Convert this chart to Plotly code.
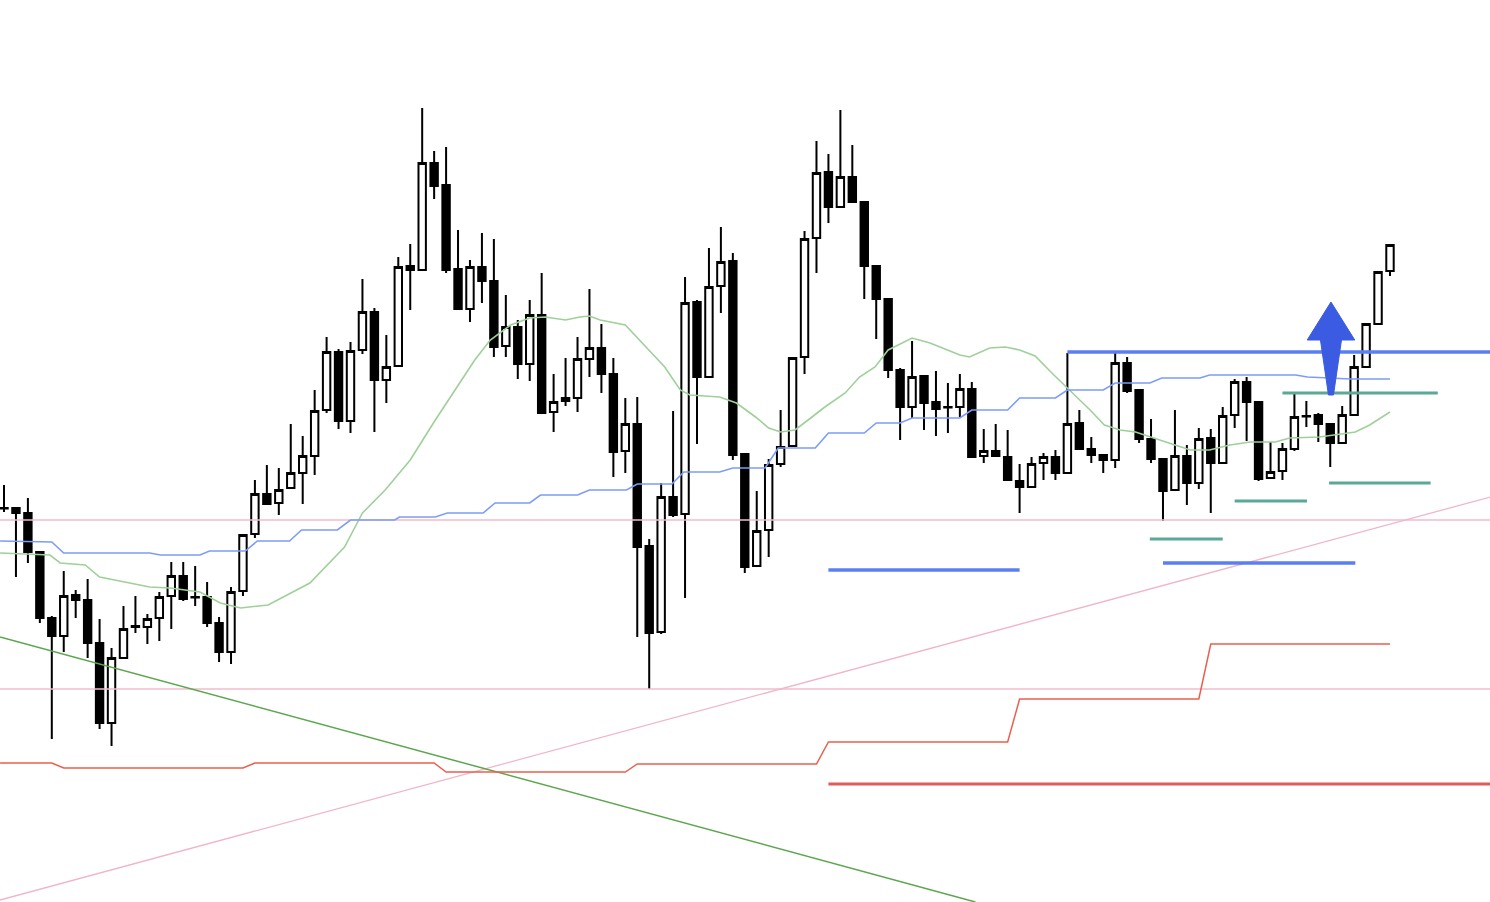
import plotly.graph_objects as go

# ---- candle data (price units; 117 bars) ----
bar_index = list(range(117))
open_ = [392, 392, 387, 348, 282, 264, 305, 300, 257, 177,
         242, 274, 273, 282, 304, 324, 303, 303, 277, 248,
         309, 366, 406, 397, 412, 427, 444, 490, 548, 479,
         550, 588, 520, 534, 634, 630, 737, 715, 631, 591,
         633, 619, 554, 573, 536, 585, 488, 502, 502, 541,
         552, 526, 449, 476, 354, 268, 403, 386, 598, 523,
         614, 639, 446, 334, 370, 436, 454, 543, 662, 728,
         693, 723, 698, 634, 601, 530, 493, 524, 498, 493,
         493, 511, 444, 449, 443, 419, 413, 437, 443, 427,
         477, 451, 445, 440, 537, 510, 461, 441, 410, 444,
         417, 462, 437, 485, 518, 498, 422, 429, 451, 484,
         485, 476, 457, 485, 533, 576, 629]
high = [415, 393, 402, 349, 284, 329, 310, 321, 281, 252,
        294, 304, 286, 308, 338, 338, 334, 318, 283, 313,
        366, 420, 435, 432, 476, 464, 510, 563, 551, 558,
        621, 592, 565, 643, 656, 792, 749, 753, 670, 640,
        667, 661, 605, 580, 600, 627, 526, 542, 563, 611,
        576, 542, 502, 503, 361, 417, 489, 623, 600, 652,
        673, 647, 446, 409, 441, 490, 543, 669, 759, 746,
        790, 755, 698, 635, 602, 532, 559, 525, 529, 517,
        526, 518, 471, 476, 470, 436, 443, 447, 450, 547,
        490, 463, 445, 547, 543, 511, 481, 441, 490, 455,
        472, 471, 493, 521, 523, 499, 458, 457, 506, 499,
        487, 477, 494, 545, 576, 628, 656]
low = [388, 323, 337, 277, 161, 248, 282, 242, 171, 154,
       241, 267, 256, 259, 271, 299, 294, 273, 238, 236,
       304, 362, 396, 385, 411, 396, 425, 487, 471, 467,
       546, 468, 497, 534, 590, 630, 701, 627, 590, 578,
       597, 543, 543, 521, 519, 486, 468, 494, 488, 523,
       507, 423, 427, 263, 211, 266, 383, 302, 456, 522,
       587, 440, 327, 333, 343, 433, 453, 526, 627, 677,
       693, 697, 601, 561, 522, 460, 482, 470, 464, 467,
       483, 442, 437, 444, 420, 387, 413, 420, 420, 427,
       451, 437, 427, 432, 507, 457, 437, 379, 410, 395,
       411, 387, 437, 472, 459, 419, 421, 420, 449, 473,
       458, 433, 457, 485, 533, 576, 624]
close = [391.5, 387, 348, 282, 264, 304, 300, 257, 177, 242,
         271, 273, 281, 303, 324, 301, 302.5, 277, 248, 308,
         365, 406, 396, 410, 427, 444, 489, 548, 479, 549,
         588, 520, 533, 633, 630, 737, 714, 630, 591, 633,
         619, 553, 573, 536, 585, 487, 498, 499, 541, 552,
         526, 448, 476, 353, 267, 403, 385, 597, 523, 613,
         638, 445, 333, 369, 435, 453, 542, 661, 727, 693,
         723, 698, 634, 601, 530, 493, 523, 497, 491, 492.5,
         511, 443, 449, 444, 420, 413, 436, 443, 427, 476,
         451, 445, 440, 537, 509, 461, 441, 409, 444, 417,
         461, 437, 484, 518, 498, 421, 428, 451, 483, 483.5,
         476, 457, 485, 533, 576, 628, 655]

# ---- indicator lines (vertices: bar index, price) ----
ma_fast_x = [-0.33, 3.85, 4.7, 6.8, 8.0, 10.1, 12.2, 13.9, 16.4, 18.1, 19.8, 22.1, 25.6, 28.5,
             30.0, 31.9, 34.0, 36.1, 38.0, 39.4, 40.7, 42.4, 44.0, 45.3, 47.0, 48.2, 49.0, 49.9,
             52.0, 53.2, 55.3, 56.6, 57.4, 59.9, 61.3, 62.9, 64.0, 65.0, 66.2, 67.3, 68.7, 70.4,
             71.6, 72.9, 74.0, 76.0, 77.5, 80.0, 80.8, 82.5, 83.8, 85.0, 86.3, 87.7, 89.2, 90.9,
             92.1, 93.4, 94.7, 95.9, 98.0, 99.3, 100.9, 102.6, 104.3, 106.4, 107.6, 110.1, 113.1,
             114.3, 116.0]
ma_fast_y = [347, 345, 337, 335, 323, 318, 313, 312, 308, 297, 292, 295, 317, 353,
             387, 410, 440, 480, 515, 540, 560, 575, 582, 583, 580, 583, 584, 580,
             575, 560, 533, 510, 505, 503, 497, 483, 472, 468, 470, 480, 493, 507,
             523, 533, 550, 562, 557, 545, 543, 552, 553, 550, 544, 527, 510, 490,
             475, 470, 468, 463, 455, 450, 450, 455, 458, 458, 462, 463, 468,
             475, 488]

base_line_x = [-0.33, 4.0, 5.0, 12.2, 13.1, 16.4, 17.2, 20.2, 21.2, 23.9, 24.9, 27.9, 29.0,
               32.7, 33.1, 36.1, 37.1, 40.1, 41.1, 44.0, 44.9, 48.0, 49.0, 52.1, 53.0, 55.9,
               56.9, 59.9, 61.0, 63.7, 64.8, 67.9, 69.0, 72.0, 73.0, 75.0, 76.0, 80.0, 81.0,
               84.0, 85.0, 88.0, 89.0, 92.0, 93.0, 95.9, 96.9, 100.1, 100.9, 108.1, 109.1,
               112.7, 116.0]
base_line_y = [359, 358, 347, 347, 345, 345, 349, 349, 359, 359, 370, 370, 380,
               380, 383, 383, 387, 387, 397, 397, 405, 405, 410, 410, 416, 416,
               428, 428, 432, 432, 452, 452, 467, 467, 477, 477, 482, 482, 490,
               490, 502, 502, 510, 510, 517, 517, 522, 522, 525, 525, 523,
               521, 521]

htf_low_x = [-0.33, 4, 5, 20, 21, 36, 37, 52, 53, 68, 69, 84, 85, 100, 101, 116]
htf_low_y = [137, 137, 132, 132, 137, 137, 128, 128, 136, 136, 158, 158, 201, 201, 256, 256]

# trend lines (two anchor points each)
rising_trend_x = [-0.33, 124.4]
rising_trend_y = [0, 403]
falling_trend_x = [-0.33, 81.3]
falling_trend_y = [263, -2]

# horizontal levels: (price, start bar, end bar)
pink_levels = [380, 211]
blue_levels = [(548, 89, 125), (330, 69, 85), (337, 97, 113.1)]
teal_levels = [(507, 107, 120), (399, 103, 109.05), (417, 110.9, 119.4), (361, 95.9, 102)]
red_levels = [(116, 69, 125)]

# arrow marker: centre bar, tip, head base, tail price
arrow_bar = 111.06
arrow_tip, arrow_head_base, arrow_tail = 598, 560, 505
arrow_head_half, arrow_shaft_half, arrow_tail_half = 1.99, 0.88, 0.21

X_RANGE = [-0.335, 124.37]
Y_RANGE = [-2, 900]

fig = go.Figure()

for lv in pink_levels:
    fig.add_trace(go.Scatter(x=X_RANGE, y=[lv, lv], mode="lines",
                             line=dict(color="#f2bccb", width=1.3), hoverinfo="skip"))
fig.add_trace(go.Scatter(x=rising_trend_x, y=rising_trend_y, mode="lines",
                         line=dict(color="#f0b6c8", width=1.3), hoverinfo="skip"))
fig.add_trace(go.Scatter(x=falling_trend_x, y=falling_trend_y, mode="lines",
                         line=dict(color="#5ca64e", width=1.5), hoverinfo="skip"))
fig.add_trace(go.Scatter(x=htf_low_x, y=htf_low_y, mode="lines",
                         line=dict(color="#e8604e", width=1.5), hoverinfo="skip"))
fig.add_trace(go.Scatter(x=ma_fast_x, y=ma_fast_y, mode="lines",
                         line=dict(color="#9fd09a", width=1.6), hoverinfo="skip"))
fig.add_trace(go.Scatter(x=base_line_x, y=base_line_y, mode="lines",
                         line=dict(color="#7d9cf8", width=1.6), hoverinfo="skip"))
for p, a, b in blue_levels:
    fig.add_trace(go.Scatter(x=[a, b], y=[p, p], mode="lines",
                             line=dict(color="#5b7ff2", width=3.5), hoverinfo="skip"))
for p, a, b in teal_levels:
    fig.add_trace(go.Scatter(x=[a, b], y=[p, p], mode="lines",
                             line=dict(color="#5aa896", width=3.2), hoverinfo="skip"))
for p, a, b in red_levels:
    fig.add_trace(go.Scatter(x=[a, b], y=[p, p], mode="lines",
                             line=dict(color="#e05c5c", width=3.2), hoverinfo="skip"))

fig.add_trace(go.Candlestick(
    x=bar_index, open=open_, high=high, low=low, close=close,
    increasing=dict(fillcolor="#ffffff", line=dict(color="#000000", width=2)),
    decreasing=dict(fillcolor="#000000", line=dict(color="#000000", width=2)),
    whiskerwidth=0, hoverinfo="skip"))

c = arrow_bar
path = (f"M {c},{arrow_tip} L {c + arrow_head_half},{arrow_head_base} "
        f"L {c + arrow_shaft_half},{arrow_head_base} L {c + arrow_tail_half},{arrow_tail} "
        f"L {c - arrow_tail_half},{arrow_tail} L {c - arrow_shaft_half},{arrow_head_base} "
        f"L {c - arrow_head_half},{arrow_head_base} Z")
fig.add_shape(type="path", path=path, xref="x", yref="y",
              fillcolor="#3a5be2", line=dict(color="#3a5be2", width=1), layer="above")

fig.update_layout(
    width=1490, height=902, margin=dict(l=0, r=0, t=0, b=0),
    paper_bgcolor="#ffffff", plot_bgcolor="#ffffff", showlegend=False,
    boxgap=0.38, boxgroupgap=0,
    xaxis=dict(range=X_RANGE, visible=False, rangeslider=dict(visible=False), fixedrange=True),
    yaxis=dict(range=Y_RANGE, visible=False, fixedrange=True),
)
fig.write_html("out.html", config={"displayModeBar": False},
               post_script="document.body.style.margin='0';document.body.style.overflow='hidden';")
